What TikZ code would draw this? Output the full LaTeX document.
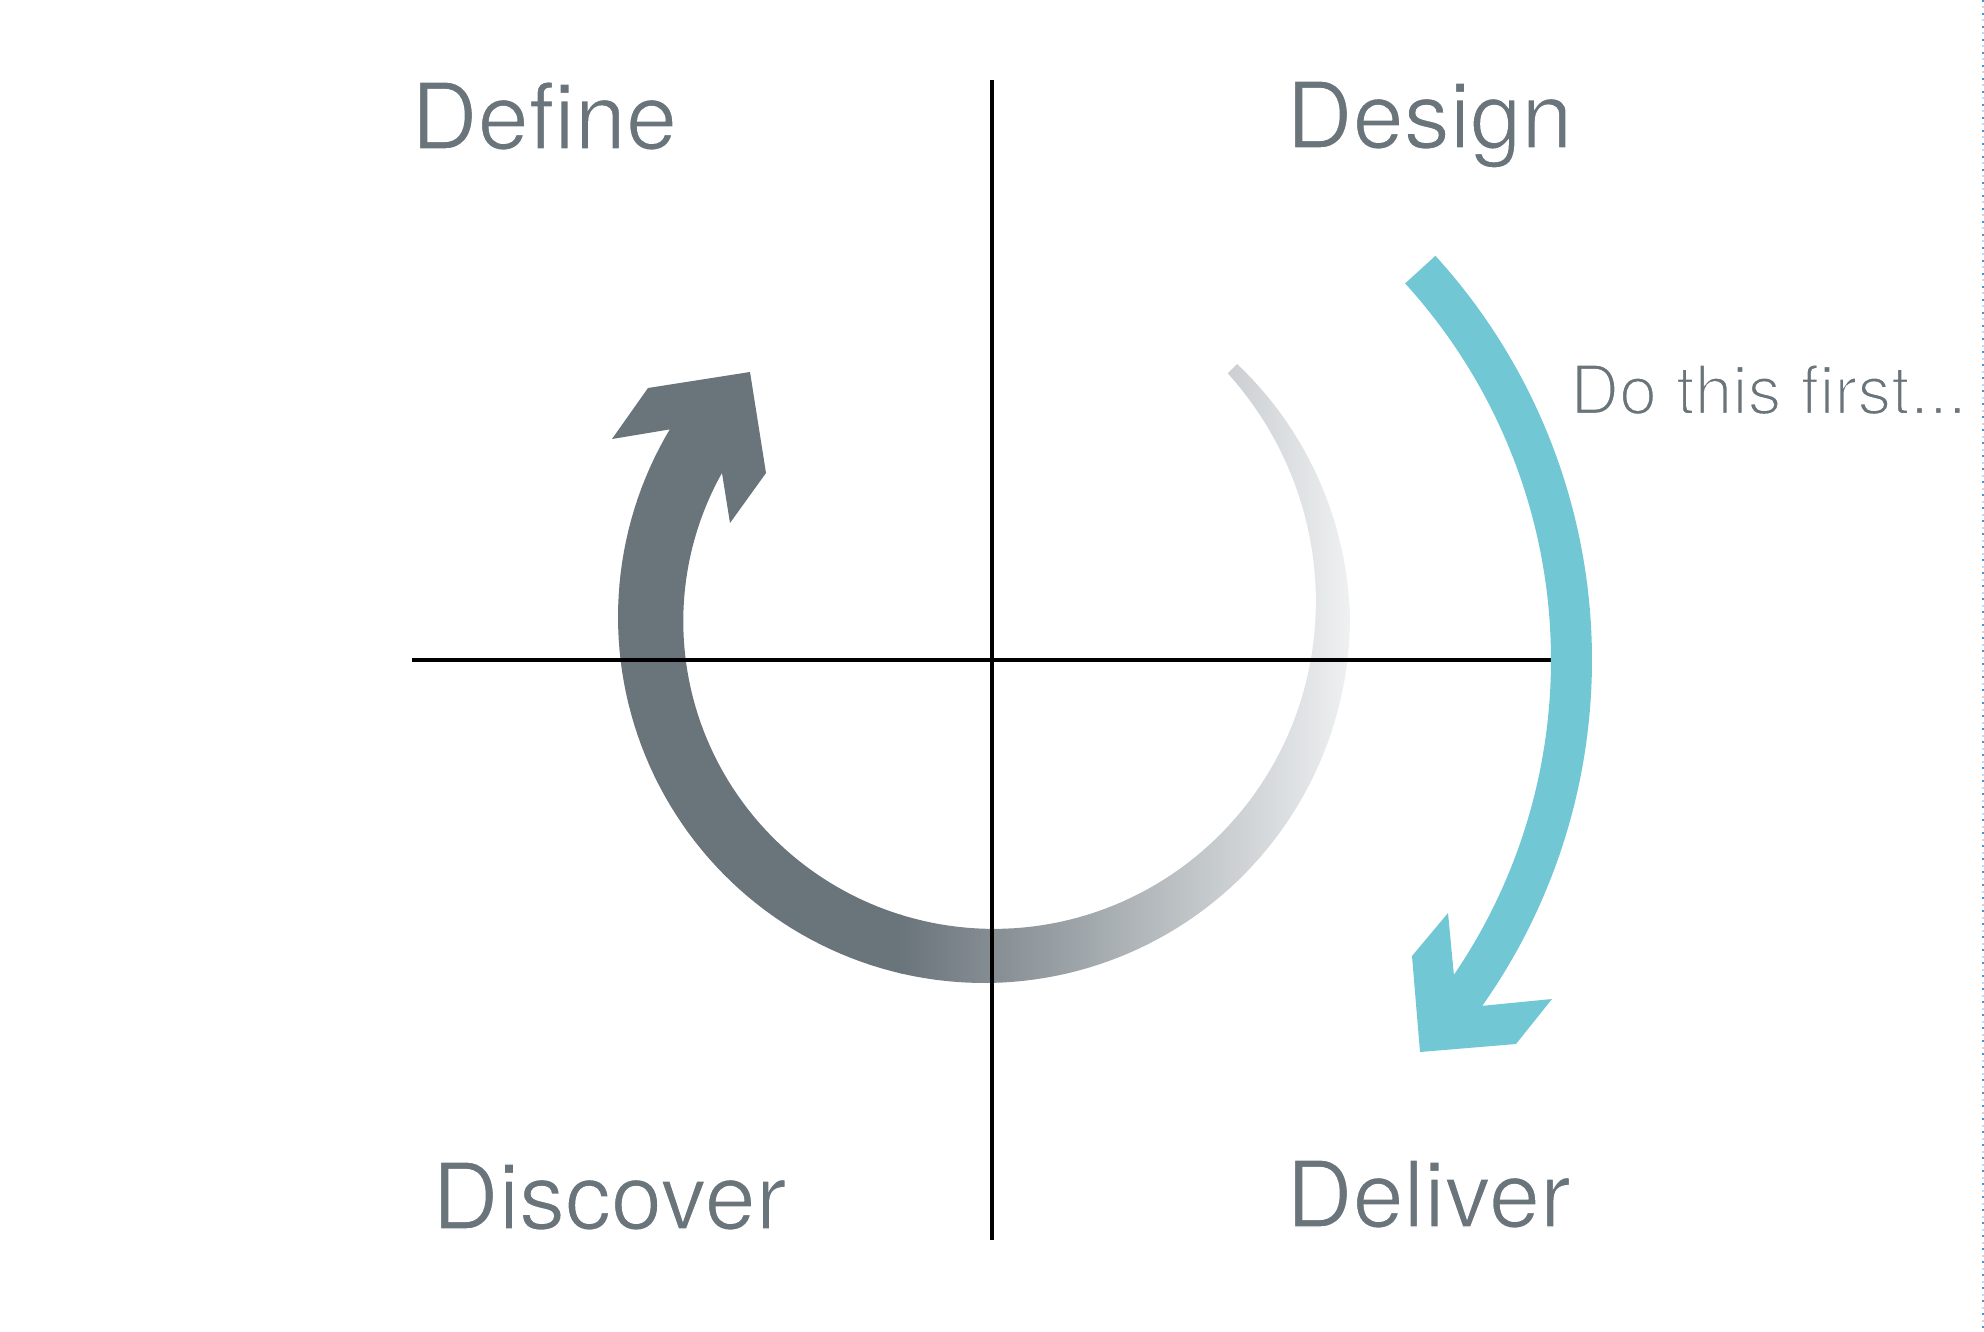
\documentclass[tikz,border=0pt]{standalone}
\usepackage{fontspec}
\newfontfamily\lbl{TeX Gyre Heros}[Ligatures=NoCommon]
\definecolor{slate}{RGB}{106,116,123}
\definecolor{slatelight}{RGB}{239,241,242}
\definecolor{arrowblue}{RGB}{114,199,212}
\definecolor{dashblue}{RGB}{60,150,220}
% thin the glyphs with a white outline stroke
\newcommand\thintext[2]{\special{pdf:literal direct 1 1 1 RG #1 w 2 Tr}#2\special{pdf:literal direct 0 Tr}}
\begin{document}
\begin{tikzpicture}[x=1pt,y=-1pt,
  lbl/.style={anchor=base west, inner sep=0pt, text=slate, font=\lbl\fontsize{92}{100}\selectfont},
  axisline/.style={black, line width=3.5pt},
  declare function={ri(\t)=299+4.11*((\t-150)/100)+5.42*((\t-150)/100)^2;
                    ro(\t)=366-0.18*max(\t-360,0);}]
\useasboundingbox (0,0) rectangle (1984,1332);
% gray circular arrow with gradient tail
\begin{scope}
\clip (672,429)
  -- plot[domain=149:405, samples=150] ({984+ro(\x)*cos(\x)},{617-ro(\x)*sin(\x)})
  -- plot[domain=405:151, samples=150] ({984+ri(\x)*cos(\x)},{617-ri(\x)*sin(\x)})
  -- (722,473) -- (730,523) -- (766,473) -- (750,372) -- (648,388) -- (612,439) -- cycle;
\fill[slate] (590,340) rectangle (902,1000);
\shade[left color=slate, right color=slatelight] (900,340) rectangle (1352,1000);
\end{scope}
% axes
\coordinate (vtop) at (992,80);
\coordinate (vbot) at (992,1240);
\coordinate (hleft) at (412,660);
\coordinate (hright) at (1556,660);
\draw[axisline] (vtop) -- (vbot);
\draw[axisline] (hleft) -- (hright);
% blue arrow
\fill[arrowblue]
  plot[domain=42.35:-35.2, samples=150] ({992+600*cos(\x)},{660-600*sin(\x)})
  -- (1552,999) -- (1516,1044) -- (1420,1052) -- (1412,956) -- (1448,913) -- (1454,976)
  -- plot[domain=-34.4:42.35, samples=150] ({992+559*cos(\x)},{660-559*sin(\x)})
  -- cycle;
% labels
\node[lbl] (define) at (411,149) {\thintext{1.4}{Define}};
\node[lbl] (design) at (1286,148) {\thintext{1.4}{Design}};
\node[lbl] (discover) at (432,1229) {\thintext{1.4}{Discover}};
\node[lbl] (deliver) at (1286,1227) {\thintext{1.4}{Deliver}};
\node[lbl, font=\lbl\fontsize{68}{72}\selectfont] (first) at (1570,414) {\thintext{2.4}{Do this first...}};
% dotted edge at right
\draw[dashblue, line width=1.5pt, dash pattern=on 2pt off 11pt] (1983,0) -- (1983,1332);
\draw[dashblue!35, line width=1.5pt, dash pattern=on 2pt off 11pt, dash phase=6.5pt] (1983,0) -- (1983,1332);
\end{tikzpicture}
\end{document}
